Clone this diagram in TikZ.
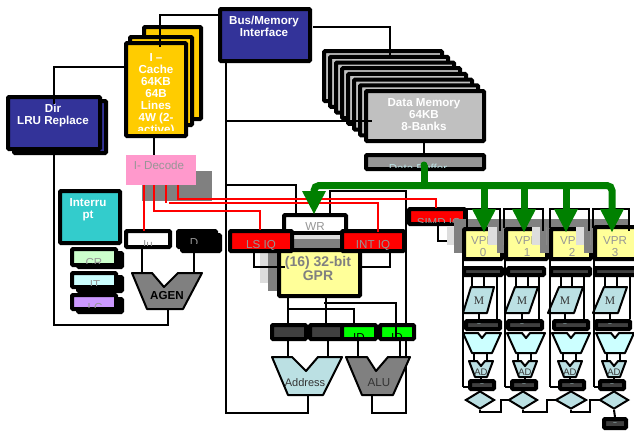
\documentclass[tikz,border=0pt]{standalone}
\usepackage{fontspec}
\setmainfont{Liberation Sans}
\newfontfamily\serifm{Liberation Serif}
\usetikzlibrary{shapes.geometric}
\definecolor{bluebox}{HTML}{333399}
\definecolor{tealbox}{HTML}{33CCCC}
\definecolor{goldbox}{HTML}{FFCC00}
\definecolor{pinkbox}{HTML}{FF99CC}
\definecolor{palebox}{HTML}{FFFF99}
\definecolor{icebox}{HTML}{BBE0E3}
\definecolor{cyanbox}{HTML}{CCFFFF}
\definecolor{mintbox}{HTML}{CCFFCC}
\definecolor{lilacbox}{HTML}{CC99FF}
\definecolor{silverbox}{HTML}{C0C0C0}
\definecolor{darkgr}{HTML}{808080}
\definecolor{lightgr}{HTML}{DDDDDD}
\definecolor{txtgr}{HTML}{969696}
\definecolor{busgreen}{HTML}{008000}
\definecolor{tiledark}{HTML}{404040}
\definecolor{inkdark}{HTML}{333333}
\tikzset{
  wire/.style={draw=black,line width=2pt,line join=miter},
  redwire/.style={draw=red,line width=2pt},
  mux/.style={draw=black,line width=2pt,line join=round},
  lab/.style={inner sep=0pt,align=center,font=\fontsize{11.6}{12}\selectfont},
  blab/.style={lab,font=\fontsize{11.6}{12}\selectfont\bfseries},
}
% clipped text inside the inner face of the last box
\newcommand{\lbl}[5]{%
  \begin{scope}\clip (\bxa,\bxb) rectangle (\bxc,\bxd);
  \node[#4] (#1) at (#2,#3) {#5};\end{scope}%
}
% box given by its outer edges; remembers its inner edges for \lbl
\newcommand{\nbx}[7][4]{%
  \pgfmathsetmacro{\bxw}{#6-#4-#1}\pgfmathsetmacro{\bxh}{#7-#5-#1}%
  \pgfmathsetmacro{\bxcx}{(#4+#6)/2}\pgfmathsetmacro{\bxcy}{(#5+#7)/2}%
  \pgfmathsetmacro{\bxa}{#4+#1}\pgfmathsetmacro{\bxb}{#5+#1}%
  \pgfmathsetmacro{\bxc}{#6-#1}\pgfmathsetmacro{\bxd}{#7-#1}%
  \node[draw=black,fill=#3,line width=#1pt,rounded corners=1pt,inner sep=0pt,
    minimum width=\bxw pt,minimum height=\bxh pt] (#2) at (\bxcx,\bxcy) {};%
}
\begin{document}
\begin{tikzpicture}[x=1pt,y=-1pt]
\useasboundingbox (0,0) rectangle (634,432);
\fill[white] (0,0) rectangle (634,432);

% ---------- Dir
\nbx{dirb}{bluebox}{12}{99}{108}{155}
\nbx{dir}{bluebox}{6}{95}{102}{151}
\node[blab,text=white,anchor=north] (dirt) at (53,104) {Dir\\LRU Replace};

% ---------- I-Cache stack
\nbx{icc}{goldbox}{142}{25}{203}{121}
\nbx{icb}{goldbox}{128}{35}{194}{127}
\nbx{ica}{goldbox}{124}{41}{188}{138}
\def\bxd{130}
\lbl{icat}{156}{53}{blab,text=white,anchor=north}{I --\\Cache\\64KB\\64B\\Lines\\4W (2-\\active)}

% ---------- Bus
\nbx{bus}{bluebox}{218}{7}{312}{63}
\node[blab,text=white,anchor=north] (bust) at (264,16) {Bus/Memory\\Interface};

% ---------- Data memory
\foreach \k in {7,...,1}{
  \pgfmathsetmacro{\dx}{6*\k}\pgfmathsetmacro{\dy}{5.7*\k}
  \pgfmathsetmacro{\xa}{364-\dx}\pgfmathsetmacro{\ya}{89-\dy}
  \pgfmathsetmacro{\xb}{486-\dx}\pgfmathsetmacro{\yb}{143-\dy}
  \nbx{dm\k}{silverbox}{\xa}{\ya}{\xb}{\yb}
}
\nbx{dm0}{silverbox}{364}{89}{486}{143}
\node[blab,text=white,anchor=north] (dmt) at (424,98) {Data Memory\\64KB\\8-Banks};
\nbx{dbuf}{txtgr}{364}{153}{486}{171}
\lbl{dbuft}{418}{164}{lab,text=icebox,anchor=north}{Data Buffer}

% ---------- I-Decode
\fill[darkgr] (142,171) rectangle (212,201);
\node[fill=pinkbox,inner sep=0pt,minimum width=70pt,minimum height=30pt] (dec) at (161,170) {};
\node[lab,text=txtgr] (dect) at (159,165) {I- Decode};

% ---------- Interrupt and small register boxes
\nbx{intr}{tealbox}{58}{189}{122}{245}
\node[blab,text=white,anchor=north] (intrt) at (88,198) {Interru\\pt};
\nbx{crb}{black}{76}{251}{124}{269}
\nbx{cr}{mintbox}{70}{247}{118}{267}
\lbl{crt}{94}{258}{lab,text=txtgr,anchor=north}{CR}
\nbx{itb}{black}{76}{275}{124}{293}
\nbx{it}{cyanbox}{70}{271}{118}{289}
\lbl{itt}{95}{280}{lab,text=txtgr,anchor=north}{IT}
\nbx{lcb}{black}{76}{297}{124}{314}
\nbx{lc}{lilacbox}{70}{293}{118}{311}
\lbl{lct}{95}{303}{lab,text=txtgr,anchor=north}{LC}

% ---------- Iu / D / AGEN
\nbx{iu}{white}{124}{229}{172}{249}
\lbl{iut}{148}{240}{lab,text=txtgr,anchor=north}{Iu}
\nbx{db}{black}{180}{233}{222}{253}
\nbx{d}{black}{176}{229}{218}{249}
\def\bxd{243.5}
\lbl{dtx}{194}{238}{lab,text=txtgr,anchor=north}{D}
\filldraw[mux,fill=darkgr] (132,273) -- (152,273) -- (164,287) -- (178,273) -- (202,273) -- (183,309) -- (147,309) -- cycle;
\coordinate (agentop) at (167,273);
\coordinate (agenbot) at (167,309);
\node[blab] (agent) at (167,295) {AGEN};

% ---------- shadows of GPR
\fill[lightgr] (260,235) rectangle (345,283);
\fill[darkgr] (268,239) rectangle (353,291);

% ---------- connectors behind the register core
\draw[wire] (226,60) -- (226,413) -- (308,413) -- (308,395);
\draw[wire] (226,121) -- (372,121);
\draw[wire] (296,214) -- (296,185) -- (226,185);
\draw[wire] (330,214) -- (330,191) -- (406,191) -- (406,413) -- (372,413) -- (372,395);

% ---------- WR / IQ / GPR
\nbx{wr}{white}{282}{213}{348}{235}
\lbl{wrt}{315}{222}{lab,text=txtgr,anchor=north}{WR}
\fill[lightgr] (293,235) rectangle (341,239);
\fill[darkgr] (293,239) rectangle (341,250);
\nbx{gpr}{palebox}{277}{248}{362}{298}
\node[lab,font=\fontsize{14}{14}\selectfont\bfseries,text=darkgr,anchor=north] (gprt) at (318,256) {(16) 32-bit\\GPR};
\nbx{lsiq}{red}{228}{229}{294}{253}
\lbl{lsiqt}{261}{240}{lab,text=txtgr,anchor=north}{LS IQ}
\nbx{intiq}{red}{340}{229}{406}{253}
\lbl{intiqt}{373}{240}{lab,text=txtgr,anchor=north}{INT IQ}
\draw[wire] (254,0 |- lsiq.south) ++(0,-4) -- (254,267) -- (285,267);
\draw[wire] (390,0 |- intiq.south) ++(0,-4) -- (390,267) -- (gpr.east |- 0,267);

% ---------- SIMD IQ
\nbx[4]{simd}{red}{407}{207}{467}{226}
\lbl{simdt}{439}{218}{lab,text=txtgr,anchor=north}{SIMD IQ}
\draw[wire] (438,222) -- (438,241) -- (463,241);

% ---------- red control wires
\draw[redwire] (144,185) -- (144,231);
\draw[redwire] (154,185) -- (154,211) -- (260,211) -- (260,230);
\draw[redwire] (166,185) -- (166,203);
\draw[redwire] (169,203) -- (378,203) -- (378,232);
\draw[redwire] (178,185) -- (178,199) -- (436,199) -- (436,208);

% ---------- register row
\nbx{ra}{tiledark}{270}{323}{308}{341}
\lbl{rat}{286}{326}{lab,text=white,anchor=north}{.}
\nbx{rb}{tiledark}{308}{323}{344}{341}
\lbl{rbt}{324}{326}{lab,text=white,anchor=north}{.}
\nbx{rc}{green}{340}{323}{378}{341}
\lbl{rct}{359}{333.5}{lab,anchor=north}{ID}
\nbx{rd}{green}{378}{323}{416}{341}
\lbl{rdt}{397}{333.5}{lab,anchor=north}{ID}

% ---------- Address / ALU
\filldraw[mux,fill=icebox] (272,357) -- (292,357) -- (306,371) -- (318,357) -- (342,357) -- (323,395) -- (288,395) -- cycle;
\coordinate (addrtop) at (306,357);
\node[lab,font=\fontsize{11}{12}\selectfont,text=inkdark] (addrt) at (305,383) {Address};
\filldraw[mux,fill=darkgr] (346,357) -- (367,357) -- (376,371) -- (388,357) -- (410,357) -- (393,395) -- (362,395) -- cycle;
\coordinate (alutop) at (376,357);
\node[lab,text=inkdark] (alut) at (379,383) {ALU};

% ---------- connectors left part
\draw[wire] (54,0 |- dir.north) ++(0,9) -- (54,67) -- (ica.west |- 0,67);
\draw[wire] (54,0 |- dir.south) -- (54,325) -- (168,325) -- (168,0 |- agenbot);
\draw[wire] (160,47) -- (160,15) -- (bus.west |- 0,15);
\draw[wire] (154,0 |- ica.south) -- (154,0 |- dec.north);
\draw[wire] (142,0 |- iu.south) -- (142,0 |- agentop);
\draw[wire] (194,0 |- db.south) -- (194,0 |- agentop);
\draw[wire] (313,27) -- (390,27) -- (390,58);
\draw[wire] (424,0 |- dm0.south) ++(0,-4) -- (424,0 |- dbuf.north);
\draw[wire] (288,0 |- gpr.south) -- (288,0 |- ra.north);
\draw[wire] (288,309) -- (354,309) -- (354,0 |- rc.north);
\draw[wire] (326,0 |- gpr.south) -- (326,0 |- rb.north);
\draw[wire] (324,303) -- (396,303) -- (396,337);
\draw[wire] (288,0 |- ra.south) -- (288,0 |- addrtop);
\draw[wire] (328,0 |- rb.south) -- (328,0 |- addrtop);
\draw[wire] (358,0 |- rc.south) -- (358,0 |- alutop);
\draw[wire] (400,0 |- rd.south) -- (400,0 |- alutop);

% ---------- VPR shadows and boxes
\foreach \i/\lg/\dg/\vl/\vr/\vt/\tc in {0/447/454/462/504/227/483,1/488/497/504/549/227/527,2/532/540/549/593/227/572,3/576/584/593/638/225/615}{
  \fill[lightgr] (\lg,227) rectangle ++(40,18);
  \fill[darkgr] (\dg,219) rectangle ++(46,34);
  \nbx{vp\i}{palebox}{\vl}{\vt}{\vr}{261}
  \lbl{vpt\i}{\tc}{236}{lab,text=txtgr,anchor=north}{VPR\\\i}
}
% shadows of each next VPR fall on the one before
\foreach \lg/\dg in {488/497,532/540,576/584}{
  \begin{scope}
  \clip (\lg,227) rectangle (\dg+6,253);
  \fill[lightgr] (\lg,227) rectangle ++(40,18);
  \fill[darkgr] (\dg,227) rectangle ++(46,26);
  \end{scope}
}
\foreach \a/\b in {467/500,504/543,550/589,593/629}{
  \draw[wire] (\a,228) -- (\a,209) -- (\b,209) -- (\b,231);
}

% ---------- VP columns
\foreach \i/\ta/\tb/\ll/\la/\lb/\lr/\mtl/\mtr/\mbr/\mbl/\ma/\ua/\ub/\mx in {
 0/462/504/463/472/484/497/471/494/487/463/479/464/502/479,
 1/506/546/505/516/528/539/515/538/529/505/522/506/544/522,
 2/549/592/550/561/572/584/559/583/574/548/565/552/590/565,
 3/593/640/594/605/617/630/604/627/618/593/610/594/632/610}{
  \nbx{ta\i}{tiledark}{\ta}{266}{\tb}{277}
  \draw[wire] (\la,0 |- ta\i.south) -- (\la,287);
  \draw[wire] (\lb,0 |- ta\i.south) -- (\lb,287);
  \filldraw[mux,fill=icebox] (\mtl,287) -- (\mtr,287) -- (\mbr,313) -- (\mbl,313) -- cycle;
  \node[inner sep=0pt,font=\serifm\fontsize{11.6}{12}\selectfont,text=inkdark] (m\i) at (\mx,301) {M};
  \nbx{tb\i}{tiledark}{\ua}{319}{\ub}{331}
  \draw[wire] (\ma,313) -- (\ma,0 |- tb\i.north);
  \draw[wire] (\lr,0 |- ta\i.south) -- (\lr,0 |- tb\i.north);
  \draw[wire] (\ll,0 |- vp\i.south) ++(0,-2) -- (\ll,387);
  \node[inner sep=0pt,font=\fontsize{6}{6}\selectfont,text=icebox] (tbt\i) at (\mx,324.5) {--};
}
\foreach \i/\x/\ba/\bb/\ax in {0/463/468/496/469,1/507/510/538/513,2/552/558/586/558,3/596/598/626/602}{
  \begin{scope}[shift={(\x,0)}]
    \filldraw[mux,fill=cyanbox] (0,333) -- (15,333) -- (19,338) -- (23,333) -- (38,333) -- (29,353) -- (9,353) -- cycle;
    \coordinate (trb\i) at (19,353);
  \end{scope}
  \begin{scope}[shift={(\ax,0)}]
    \filldraw[mux,fill=icebox] (0,361) -- (8,361) -- (12,366) -- (16,361) -- (24,361) -- (18,377) -- (6,377) -- cycle;
    \coordinate (adt\i) at (12,361);
    \coordinate (adb\i) at (12,377);
    \node[inner sep=0pt,font=\fontsize{9.5}{10}\selectfont,text=inkdark] (ad\i) at (12,372) {AD};
    \draw[wire] (5,0 |- trb\i) -- (5,0 |- adt\i);
    \draw[wire] (18,0 |- trb\i) -- (18,0 |- adt\i);
  \end{scope}
  \nbx{tc\i}{tiledark}{\ba}{379}{\bb}{391}
  \draw[wire] (adb\i) -- (adb\i |- tc\i.north);
  \node[inner sep=0pt,font=\fontsize{6}{6}\selectfont,text=icebox] (tct\i) at (\ba/2+\bb/2,384.5) {--};
}
\draw[wire] (463,387) -- (tc0.west |- 0,387);
\draw[wire] (505,387) -- (tc1.west |- 0,387);
\draw[wire] (550,387) -- (tc2.west |- 0,387);
\draw[wire] (594,387) -- (tc3.west |- 0,387);

% ---------- diamonds and last tile
\foreach \i/\c/\w in {0/480/29,1/523/29,2/571/31,3/614/29}{
  \node[diamond,draw=black,line width=2pt,fill=icebox,inner sep=0pt,aspect=1.6,
    minimum width=\w pt,minimum height=18pt] (dia\i) at (\c,400) {};
  \draw[wire] (tc\i.south -| \c,0) -- (dia\i.north);
}
\draw[wire] (dia0.south) |- (501,412) |- (dia1.west);
\draw[wire] (dia1.south) |- (547,412) |- (dia2.west);
\draw[wire] (dia2.south) |- (590,412) |- (dia3.west);
\nbx{last}{tiledark}{602}{417}{628}{430}
\node[inner sep=0pt,font=\fontsize{6}{6}\selectfont,text=icebox] (lastt) at (615,423.5) {--};
\draw[wire] (dia3.south) -- (last.north);

% ---------- green bus
\fill[busgreen] (424,165) circle (3.5);
\draw[draw=busgreen,line width=7pt] (424,165) -- (424,185.5);
\draw[draw=busgreen,line width=7pt,rounded corners=5pt] (314,192) -- (314,185.5) -- (612,185.5) -- (612,210);
\foreach \x/\t/\b in {314/191/214,484/209/232,524/209/232,566/209/232,612/209/232}{
  \fill[busgreen] (\x-12,\t) -- (\x+12,\t) -- (\x,\b) -- cycle;
}
\foreach \x in {484,524,566}{\fill[busgreen] (\x-3.5,185.5) rectangle (\x+3.5,210);}
\end{tikzpicture}
\end{document}
